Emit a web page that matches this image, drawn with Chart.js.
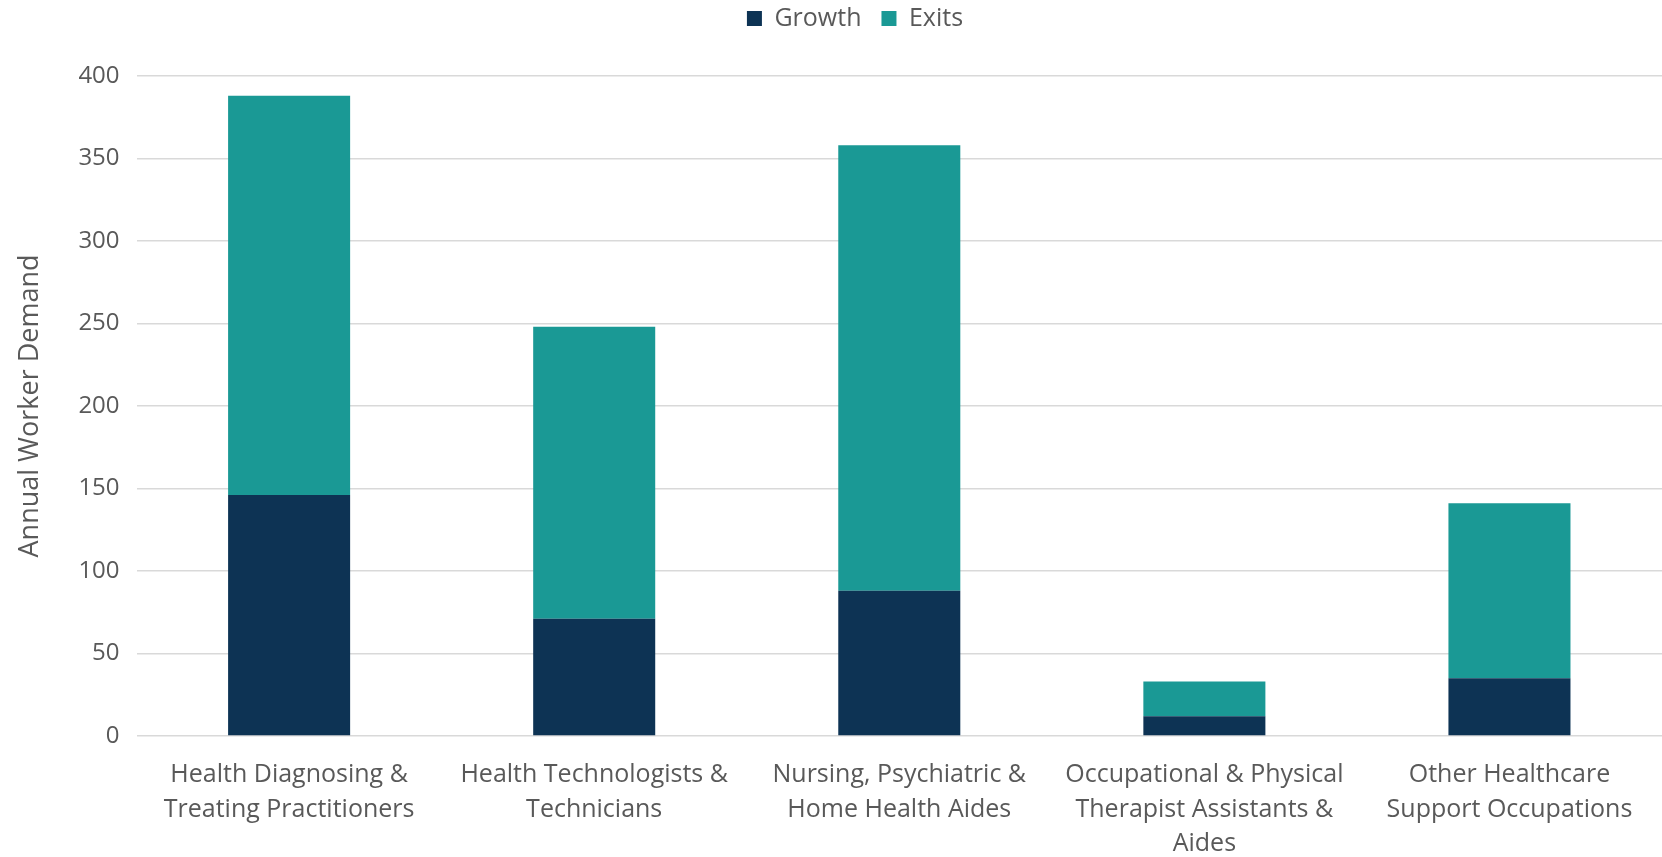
<!DOCTYPE html>
<html>
<head>
<meta charset="utf-8">
<script src="https://cdn.jsdelivr.net/npm/chart.js@4.4.1/dist/chart.umd.min.js"></script>
<style>
  html, body { margin: 0; padding: 0; background: #fff; }
  #wrap { width: 1662px; height: 857px; }
</style>
</head>
<body>
<div id="wrap"><canvas id="mycanvas"></canvas></div>
<script>
// categories (split into lines as on the picture)
var categories = [
  ["Health Diagnosing &", "Treating Practitioners"],
  ["Health Technologists &", "Technicians"],
  ["Nursing, Psychiatric &", "Home Health Aides"],
  ["Occupational & Physical", "Therapist Assistants &", "Aides"],
  ["Other Healthcare", "Support Occupations"]
];
var growth_data = [146, 71, 88, 12, 35];
var exits_data = [242, 177, 270, 21, 106];
var y_ticks = [0, 50, 100, 150, 200, 250, 300, 350, 400];

var font = "'Open Sans', sans-serif";
var textColor = "#595959";

// extra room under the legend, and nudge it a bit right
var legendSpace = {
  id: 'legendSpace',
  beforeInit: function(chart) {
    var fit = chart.legend.fit;
    chart.legend.fit = function() {
      fit.bind(chart.legend)();
      this.height += 35;
    };
  },
  afterLayout: function(chart) {
    chart.legend.left += 24;
    chart.legend.right += 24;
  }
};

var ctx = document.getElementById("mycanvas");
var chart = new Chart(ctx, {
  type: 'bar',
  data: {
    labels: categories,
    datasets: [
      {
        label: "Growth",
        backgroundColor: "#0d3354",
        data: growth_data,
        categoryPercentage: 0.8,
        barPercentage: 0.5
      },
      {
        label: "Exits",
        backgroundColor: "#1a9995",
        data: exits_data,
        categoryPercentage: 0.8,
        barPercentage: 0.5
      }
    ]
  },
  plugins: [legendSpace],
  options: {
    responsive: true,
    maintainAspectRatio: false,
    animation: { duration: 0 },
    layout: { padding: { top: -14, left: 0, right: 0, bottom: 0 } },
    plugins: {
      legend: {
        position: 'top',
        labels: {
          font: { family: font, size: 25 },
          color: textColor,
          boxWidth: 15,
          boxHeight: 15,
          padding: 20
        }
      },
      tooltip: { enabled: false }
    },
    scales: {
      x: {
        stacked: true,
        grid: { display: false },
        border: { display: false },
        afterFit: function(scale) { scale.height = 121; },
        ticks: {
          font: { family: font, size: 25, lineHeight: 1.38 },
          color: textColor,
          maxRotation: 0,
          autoSkip: false,
          padding: 14
        }
      },
      y: {
        stacked: true,
        min: 0,
        max: 400,
        afterBuildTicks: function(axis) {
          axis.ticks = y_ticks.map(function(v) { return { value: v }; });
        },
        grid: { color: "#d9d9d9", lineWidth: 1.5, drawTicks: false },
        border: { display: false },
        ticks: {
          font: { family: font, size: 24 },
          color: textColor,
          padding: 17
        },
        title: {
          display: true,
          text: "Annual Worker Demand",
          font: { family: font, size: 27 },
          color: textColor,
          padding: { top: 14, bottom: 15 }
        }
      }
    }
  }
});
</script>
</body>
</html>
